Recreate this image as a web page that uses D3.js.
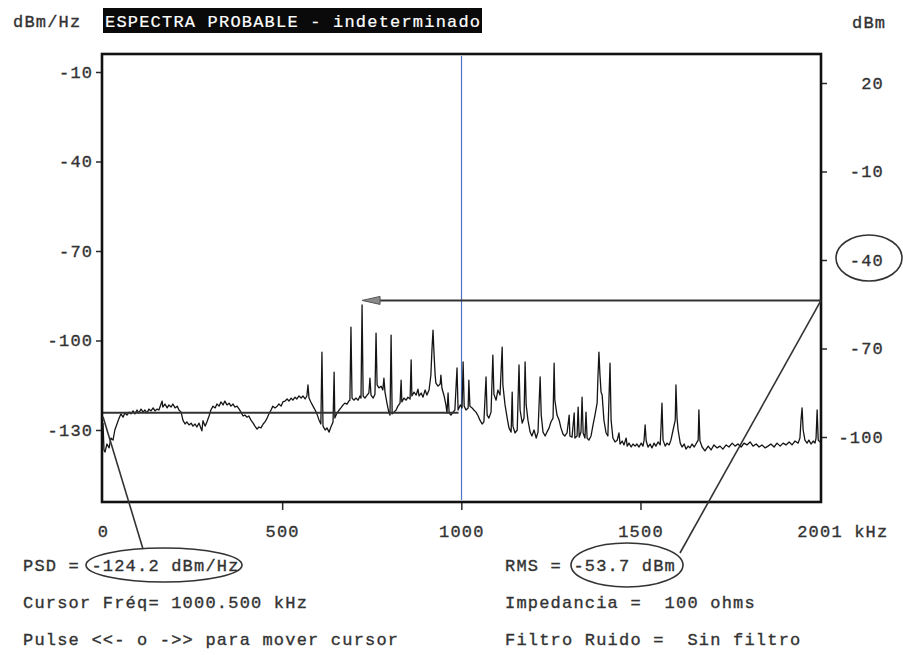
<!DOCTYPE html>
<html>
<head>
<meta charset="utf-8">
<script src="https://cdn.jsdelivr.net/npm/d3@7/dist/d3.min.js"></script>
<style>
  body { margin: 0; background: #fff; }
  text { font-family: "Liberation Mono", "DejaVu Sans Mono", monospace; font-size: 17px; letter-spacing: 1.2px; fill: #333; stroke: #333; stroke-width: 0.35px; white-space: pre; }
</style>
</head>
<body>
<svg id="chart" width="903" height="655"></svg>
<script>
// Spectrum trace: [frequency kHz, PSD dBm/Hz]
const spectrum = [
  [0,-127.7],[2.8,-136.7],[5.6,-137.4],[11,-134.7],[17,-136.0],[22,-132.7],[28,-133.4],[33,-130.0],[39,-128.0],[45,-126.0],
  [50,-124.6],[56,-125.7],[61,-124.3],[67,-125.0],[73,-124.0],[78,-124.6],[84,-123.6],[89,-124.6],[95,-123.3],[100,-124.3],
  [106,-123.0],[112,-124.0],[117,-123.3],[123,-124.3],[128,-123.0],[134,-123.6],[140,-122.6],[145,-123.6],[151,-123.0],[156,-123.3],
  [162,-121.3],[165,-120.3],[167,-122.3],[173,-121.3],[179,-122.6],[184,-121.6],[190,-122.3],[195,-121.3],[201,-122.6],[207,-122.0],
  [212,-123.3],[218,-124.0],[223,-126.7],[229,-128.0],[234,-127.3],[240,-128.3],[246,-127.7],[251,-128.7],[257,-128.0],[262,-129.0],
  [268,-127.7],[273,-129.3],[276,-130.3],[279,-126.9],[285,-128.7],[290,-127.3],[296,-125.3],[301,-123.3],[307,-122.0],[313,-122.6],
  [318,-121.3],[324,-122.0],[329,-120.6],[335,-121.6],[340,-120.3],[346,-121.6],[352,-121.0],[357,-122.0],[363,-121.3],[368,-122.3],
  [374,-122.0],[380,-123.0],[385,-124.0],[391,-125.3],[396,-125.0],[402,-125.7],[407,-125.3],[413,-126.7],[419,-127.7],[424,-128.7],
  [430,-129.7],[435,-129.0],[441,-129.3],[447,-128.0],[452,-127.3],[458,-126.0],[463,-124.6],[469,-123.3],[474,-122.0],[480,-122.6],
  [486,-122.0],[491,-121.3],[497,-122.0],[502,-120.6],[508,-120.3],[514,-119.6],[519,-120.3],[525,-119.3],[530,-120.0],[536,-119.0],
  [541,-119.6],[547,-118.6],[553,-119.3],[558,-118.6],[564,-119.6],[569,-118.6],[572,-114.9],[575,-119.3],[580,-120.6],[586,-122.0],
  [592,-123.3],[597,-124.6],[603,-126.7],[608,-128.0],[611,-103.9],[614,-128.7],[620,-130.0],[625,-129.3],[631,-130.7],[636,-129.0],
  [642,-127.3],[645,-110.6],[647,-126.0],[653,-124.3],[659,-123.3],[664,-122.6],[670,-121.6],[675,-121.0],[681,-121.3],[686,-120.3],
  [689,-120.0],[692,-95.5],[695,-119.3],[700,-120.0],[706,-119.3],[712,-120.0],[717,-118.6],[720,-119.3],[723,-88.1],[726,-118.6],
  [731,-119.3],[737,-118.3],[742,-117.6],[745,-112.6],[748,-118.3],[754,-119.3],[759,-118.0],[762,-97.5],[765,-114.9],[770,-115.9],
  [776,-115.3],[781,-116.6],[784,-112.6],[787,-117.3],[793,-121.3],[798,-124.3],[801,-125.0],[804,-98.2],[807,-124.6],[812,-124.0],
  [818,-123.3],[823,-122.0],[829,-121.0],[832,-113.3],[834,-120.6],[840,-119.3],[846,-120.0],[851,-119.0],[857,-119.6],[860,-106.5],
  [862,-118.6],[868,-117.3],[874,-118.3],[879,-116.3],[882,-118.6],[888,-117.6],[893,-119.0],[899,-116.6],[904,-118.3],[910,-116.6],
  [915,-111.6],[918,-103.2],[921,-96.5],[924,-104.9],[927,-111.6],[929,-114.3],[935,-115.3],[941,-114.6],[943,-111.6],[946,-116.0],
  [952,-118.6],[957,-121.6],[960,-124.3],[963,-117.6],[966,-124.3],[971,-125.0],[977,-124.0],[982,-123.3],[988,-109.2],[991,-123.3],
  [997,-121.6],[1002,-122.6],[1005,-107.2],[1008,-122.0],[1013,-123.3],[1019,-122.6],[1021,-113.3],[1024,-122.0],[1030,-122.6],[1035,-123.3],
  [1041,-124.0],[1047,-125.3],[1052,-126.7],[1058,-128.0],[1063,-127.3],[1069,-112.2],[1072,-125.0],[1077,-126.0],[1083,-124.0],[1088,-104.9],
  [1091,-118.0],[1097,-120.0],[1102,-116.6],[1108,-118.3],[1114,-102.2],[1116,-114.9],[1122,-121.6],[1128,-126.0],[1133,-129.3],[1139,-130.7],
  [1142,-117.3],[1144,-128.7],[1150,-131.0],[1156,-130.0],[1161,-108.2],[1164,-123.3],[1170,-127.7],[1175,-126.0],[1178,-107.2],[1181,-121.6],
  [1186,-126.7],[1192,-130.7],[1197,-132.0],[1203,-130.0],[1209,-132.7],[1214,-130.7],[1220,-112.2],[1223,-125.0],[1228,-130.7],[1234,-132.0],
  [1239,-130.7],[1245,-129.3],[1250,-127.3],[1256,-126.0],[1259,-107.6],[1261,-120.0],[1267,-125.0],[1273,-126.7],[1278,-129.3],[1284,-131.4],
  [1289,-132.0],[1295,-131.0],[1301,-125.0],[1303,-132.0],[1309,-132.4],[1315,-124.3],[1317,-132.7],[1323,-132.0],[1326,-122.3],[1329,-132.4],
  [1334,-130.7],[1337,-119.0],[1340,-131.0],[1345,-132.7],[1348,-124.0],[1351,-132.7],[1356,-133.4],[1362,-132.0],[1368,-128.0],[1373,-125.0],
  [1379,-121.0],[1381,-113.3],[1384,-103.9],[1387,-111.6],[1390,-117.3],[1393,-118.3],[1398,-126.7],[1404,-131.0],[1409,-132.0],[1415,-107.6],
  [1418,-126.7],[1423,-132.7],[1429,-134.0],[1435,-133.4],[1440,-131.0],[1443,-134.7],[1449,-133.7],[1454,-135.0],[1460,-132.7],[1463,-135.4],
  [1468,-134.4],[1474,-135.7],[1479,-134.7],[1485,-135.4],[1490,-134.7],[1496,-135.7],[1502,-134.4],[1507,-135.4],[1510,-133.4],[1513,-128.3],
  [1516,-133.7],[1521,-135.7],[1527,-134.7],[1532,-136.0],[1538,-134.4],[1543,-135.4],[1549,-134.0],[1555,-135.0],[1557,-130.0],[1560,-121.0],
  [1563,-133.4],[1569,-135.4],[1574,-134.4],[1580,-135.0],[1585,-133.4],[1591,-130.0],[1597,-126.7],[1599,-114.9],[1602,-126.0],[1605,-130.0],
  [1611,-134.4],[1616,-135.7],[1622,-134.7],[1627,-136.4],[1633,-135.4],[1638,-136.0],[1644,-134.7],[1650,-135.7],[1661,-133.4],[1663,-123.3],
  [1666,-133.7],[1672,-135.7],[1680,-137.0],[1689,-135.4],[1697,-136.7],[1705,-135.0],[1714,-136.0],[1722,-135.4],[1730,-136.4],[1739,-135.0],
  [1747,-135.7],[1756,-134.4],[1764,-135.4],[1772,-134.7],[1781,-135.7],[1789,-134.4],[1797,-135.0],[1806,-134.0],[1814,-135.4],[1823,-134.7],
  [1831,-135.7],[1839,-135.0],[1848,-136.0],[1856,-135.4],[1864,-134.7],[1873,-135.7],[1881,-134.4],[1890,-135.4],[1898,-134.4],[1906,-135.0],
  [1915,-134.0],[1923,-135.0],[1931,-133.7],[1940,-134.4],[1945,-132.7],[1948,-126.7],[1951,-122.6],[1954,-130.0],[1959,-133.4],[1965,-134.4],
  [1970,-133.4],[1976,-134.7],[1982,-133.7],[1987,-134.4],[1990,-132.7],[1993,-123.3],[1996,-133.4],[2001,-134.0]
];

const leftTicks = [-10, -40, -70, -100, -130];     // dBm/Hz
const rightTicks = [20, -10, -40, -70, -100];      // dBm
const freqTicks = [0, 500, 1000, 1500];
const freqMax = 2001;
const cursorKHz = 1000.5;
const psdAtCursor = -124.2;   // dBm/Hz
const rmsDbm = -53.7;         // dBm
const peakKHz = 723;          // strongest spur, target of the RMS arrow

const titleText = "ESPECTRA PROBABLE - indeterminado";
const leftInfo = ["PSD = -124.2 dBm/Hz", "Cursor Fréq= 1000.500 kHz", "Pulse <<- o ->> para mover cursor"];
const rightInfo = ["RMS = -53.7 dBm", "Impedancia =  100 ohms", "Filtro Ruido =  Sin filtro"];

const svg = d3.select("#chart");
const ink = "#2b2b2b";
const box = { left: 102, right: 821, top: 54, bottom: 502 };

const x = d3.scaleLinear().domain([0, freqMax]).range([103, 820]);
const yL = d3.scaleLinear().domain([-130, -10]).range([430, 72]);
const yR = d3.scaleLinear().domain([-100, 20]).range([437, 83]);

// header
svg.append("text").attr("x", 13).attr("y", 27).text("dBm/Hz");
svg.append("rect").attr("x", 103).attr("y", 8).attr("width", 379).attr("height", 25).attr("fill", "#0a0a0a");
svg.append("text").attr("x", 105).attr("y", 27).style("fill", "#fff").style("stroke", "#fff").style("stroke-width", "0.2px").text(titleText);
svg.append("text").attr("x", 852).attr("y", 28).text("dBm");

// left axis
const gL = svg.append("g").attr("transform", `translate(${box.left},0)`)
  .call(d3.axisLeft(yL).tickValues(leftTicks).tickSize(6).tickFormat(d => String(d)));
gL.select(".domain").remove();
gL.selectAll("line").attr("stroke", ink).attr("stroke-width", 1.5);
gL.selectAll("text").attr("dy", "0.32em").attr("x", -8.8);

// right axis
const gR = svg.append("g").attr("transform", `translate(${box.right},0)`)
  .call(d3.axisRight(yR).tickValues(rightTicks).tickSize(6).tickFormat(d => String(d)));
gR.select(".domain").remove();
gR.selectAll("line").attr("stroke", ink).attr("stroke-width", 1.5);
gR.selectAll("text").attr("text-anchor", "end").attr("x", 63).attr("dy", "0.3em");

// bottom axis
const gB = svg.append("g").attr("transform", `translate(0,${box.bottom})`)
  .call(d3.axisBottom(x).tickValues(freqTicks).tickSize(8).tickFormat(d => String(d)));
gB.select(".domain").remove();
gB.selectAll("line").attr("stroke", ink).attr("stroke-width", 1.5).filter(d => d === 0).remove();
gB.selectAll("text").attr("dy", null).attr("y", 35);
svg.selectAll(".tick text").attr("font-family", null).attr("font-size", null).attr("fill", null);
svg.append("text").attr("x", x(freqMax) - 22.8).attr("y", box.bottom + 35).text(freqMax + " kHz");

// cursor
svg.append("line").attr("x1", x(cursorKHz)).attr("x2", x(cursorKHz))
  .attr("y1", box.top + 2).attr("y2", box.bottom - 2)
  .attr("stroke", "#4d72c4").attr("stroke-width", 1.2);

// spectrum trace
const line = d3.line().x(d => x(d[0])).y(d => yL(d[1]));
svg.append("path").datum(spectrum).attr("d", line)
  .attr("fill", "none").attr("stroke", "#151515").attr("stroke-width", 1.3).attr("stroke-linejoin", "round");

// PSD level at cursor
svg.append("line").attr("x1", x(0)).attr("x2", x(cursorKHz) - 3)
  .attr("y1", yL(psdAtCursor)).attr("y2", yL(psdAtCursor))
  .attr("stroke", "#333").attr("stroke-width", 2);

// RMS level arrow
const ay = yR(rmsDbm);
svg.append("line").attr("x1", box.right).attr("x2", x(peakKHz) + 14)
  .attr("y1", ay).attr("y2", ay).attr("stroke", "#333").attr("stroke-width", 2);
svg.append("path")
  .attr("d", `M${x(peakKHz)},${ay} L${x(peakKHz) + 18},${ay - 4} L${x(peakKHz) + 18},${ay + 4} Z`)
  .attr("fill", "#8a8a8a").attr("stroke", "#555").attr("stroke-width", 1);

// frame
svg.append("rect").attr("x", box.left).attr("y", box.top)
  .attr("width", box.right - box.left).attr("height", box.bottom - box.top)
  .attr("fill", "none").attr("stroke", "#111").attr("stroke-width", 2.6);

// info lines
leftInfo.forEach((t, i) => svg.append("text").attr("x", 23).attr("y", 571 + i * 37).text(t));
rightInfo.forEach((t, i) => svg.append("text").attr("x", 505).attr("y", 571 + i * 37).text(t));

// highlight ellipses and leader lines
const mark = { fill: "none", stroke: "#333", "stroke-width": 1.6 };
function ell(cx, cy, rx, ry) {
  const e = svg.append("ellipse").attr("cx", cx).attr("cy", cy).attr("rx", rx).attr("ry", ry);
  Object.entries(mark).forEach(([k, v]) => e.attr(k, v));
}
function seg(x1, y1, x2, y2) {
  const l = svg.append("line").attr("x1", x1).attr("y1", y1).attr("x2", x2).attr("y2", y2);
  Object.entries(mark).forEach(([k, v]) => l.attr(k, v));
}
ell(164, 565, 78, 17);
ell(627, 565, 56, 22);
ell(869, yR(-40) - 2, 33, 23);
seg(x(0), yL(psdAtCursor) + 4, 143, 549);
seg(box.right, ay, 680, 553);
</script>
</body>
</html>
